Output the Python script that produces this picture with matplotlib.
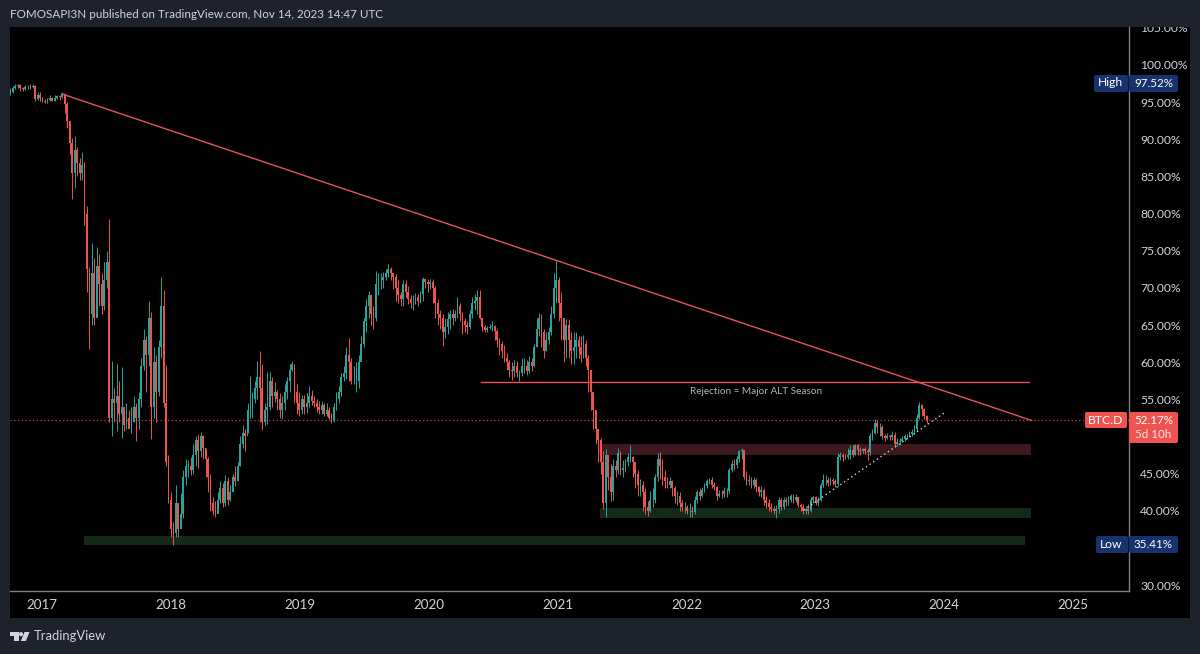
import matplotlib
matplotlib.use('Agg')
import matplotlib.pyplot as plt
from matplotlib.patches import Rectangle, FancyBboxPatch, Polygon, Circle
from matplotlib.transforms import Bbox

plt.rcParams['font.family'] = ['Lato', 'DejaVu Sans']

# weekly BTC.D candles, ten per row
closes = [
    96.4, 96.9, 97.2, 97.3, 96.9, 96.7, 97.0, 97.1, 97.0, 97.2,
    95.4, 96.0, 95.6, 95.2, 95.0, 95.3, 95.5, 95.2, 95.6, 95.8,
    95.7, 96.1, 94.8, 92.5, 89.5, 85.5, 88.5, 86.8, 85.5, 86.5,
    80.0, 72.5, 66.5, 72.0, 66.0, 73.0, 70.5, 67.5, 71.0, 73.5,
    52.5, 55.0, 54.5, 55.5, 53.0, 54.0, 51.5, 52.5, 51.0, 52.0,
    54.0, 52.5, 55.0, 59.5, 63.0, 61.0, 66.0, 54.0, 60.0, 56.0,
    62.0, 67.5, 54.5, 46.5, 41.5, 37.5, 37.0, 41.0, 37.5, 39.5,
    44.5, 46.0, 46.0, 45.5, 47.5, 49.5, 48.0, 50.0, 48.5, 47.0,
    44.5, 41.0, 40.0, 39.5, 41.5, 43.0, 41.0, 44.0, 41.5, 42.5,
    44.5, 44.0, 46.0, 49.0, 50.5, 50.0, 53.5, 53.5, 55.0, 56.5,
    58.0, 56.5, 52.0, 53.5, 54.0, 57.5, 55.5, 56.0, 55.0, 53.5,
    54.5, 56.0, 57.5, 59.0, 59.8, 56.0, 54.5, 53.5, 55.0, 54.0,
    54.5, 55.5, 54.8, 54.5, 54.0, 53.5, 54.2, 53.0, 53.5, 52.5,
    52.2, 54.0, 55.0, 56.0, 58.0, 58.5, 61.0, 60.0, 57.5, 57.5,
    57.5, 60.0, 62.5, 65.5, 67.5, 69.0, 66.5, 66.0, 70.5, 71.0,
    71.0, 71.5, 72.0, 72.5, 72.0, 71.5, 70.0, 69.0, 68.5, 70.5,
    69.5, 68.5, 68.0, 68.0, 68.8, 68.3, 69.2, 71.2, 70.8, 70.5,
    70.8, 70.0, 68.0, 66.5, 66.0, 64.0, 64.8, 65.8, 66.5, 66.0,
    66.5, 67.5, 66.5, 65.5, 65.0, 64.8, 66.5, 68.0, 68.3, 68.8,
    66.0, 64.8, 64.3, 64.6, 64.8, 64.9, 64.2, 63.0, 62.5, 61.5,
    60.5, 60.0, 59.0, 58.8, 59.5, 58.5, 58.5, 59.5, 59.5, 58.8,
    60.0, 59.5, 62.0, 64.5, 66.0, 64.0, 61.5, 63.0, 64.0, 66.5,
    70.0, 71.0, 68.0, 66.0, 63.0, 65.0, 63.0, 61.5, 62.0, 63.0,
    62.0, 61.0, 62.5, 60.5, 59.0, 56.0, 53.5, 51.0, 49.5, 46.5,
    41.0, 47.5, 44.5, 42.5, 46.0, 45.5, 47.8, 45.5, 45.8, 46.5,
    47.2, 47.3, 46.5, 45.0, 43.5, 43.5, 42.5, 40.5, 40.0, 41.5,
    41.5, 44.5, 47.0, 46.0, 44.5, 44.0, 43.5, 44.0, 43.0, 42.0,
    42.0, 41.0, 40.5, 40.5, 40.0, 40.0, 39.8, 41.5, 42.5, 42.0,
    42.8, 43.3, 44.0, 44.2, 43.5, 43.2, 42.0, 42.3, 42.2, 42.6,
    42.6, 45.5, 46.3, 46.2, 47.0, 48.0, 48.2, 44.5, 44.0, 44.2,
    43.5, 44.2, 43.2, 42.5, 42.8, 41.5, 41.0, 40.5, 40.3, 40.0,
    40.2, 41.5, 40.5, 41.5, 41.2, 41.5, 42.0, 41.5, 41.8, 40.8,
    40.5, 40.0, 40.2, 40.0, 41.5, 41.8, 41.0, 41.5, 43.5, 44.2,
    44.2, 43.8, 44.2, 44.0, 43.6, 47.3, 47.5, 47.3, 47.2, 47.5,
    48.2, 47.5, 48.8, 48.2, 48.0, 48.3, 48.1, 47.9, 50.0, 50.5,
    51.8, 51.3, 51.3, 50.0, 49.8, 50.0, 49.9, 50.2, 49.0, 49.3,
    49.4, 49.7, 50.0, 50.0, 50.3, 50.6, 51.0, 52.5, 54.3, 53.7,
    52.7, 52.17,
]
highs = [
    96.9, 97.2, 97.5, 97.5, 97.4, 97.1, 97.3, 97.3, 97.4, 97.5,
    97.3, 96.3, 96.3, 95.7, 95.4, 95.5, 95.9, 95.7, 95.9, 96.0,
    96.0, 96.3, 96.2, 95.0, 92.3, 90.2, 90.5, 89.0, 87.5, 88.3,
    87.0, 81.0, 72.8, 76.0, 74.0, 75.5, 74.5, 72.0, 73.5, 75.0,
    79.3, 60.2, 56.5, 59.8, 57.5, 59.4, 54.0, 54.5, 53.5, 54.0,
    55.5, 54.5, 56.0, 60.5, 64.5, 63.5, 68.3, 66.8, 62.0, 61.0,
    63.0, 71.5, 69.7, 59.6, 47.5, 42.5, 38.5, 43.5, 41.0, 42.4,
    45.5, 47.0, 46.8, 47.3, 49.0, 50.0, 50.4, 50.6, 50.2, 48.5,
    47.2, 45.0, 41.8, 41.3, 42.5, 44.0, 43.8, 44.8, 44.5, 43.5,
    45.0, 46.0, 46.5, 50.0, 51.5, 51.0, 54.5, 58.2, 56.0, 57.5,
    60.2, 61.5, 59.8, 54.5, 58.7, 58.7, 58.0, 57.3, 56.3, 55.8,
    55.5, 57.0, 58.0, 59.7, 60.2, 59.8, 57.0, 56.0, 55.6, 55.6,
    55.8, 56.8, 56.3, 55.5, 55.0, 54.8, 54.8, 54.5, 54.5, 54.0,
    53.2, 54.5, 56.0, 56.8, 58.5, 59.5, 62.0, 63.2, 60.5, 59.5,
    60.0, 61.0, 63.5, 66.0, 68.5, 69.6, 69.0, 67.5, 72.3, 72.0,
    72.0, 72.2, 72.6, 73.2, 72.8, 72.0, 71.8, 71.0, 69.5, 71.0,
    71.0, 70.3, 69.0, 69.0, 69.3, 69.2, 69.6, 71.5, 71.2, 71.2,
    71.2, 71.2, 70.2, 68.5, 67.0, 66.5, 66.0, 66.8, 67.0, 67.2,
    67.0, 68.8, 68.0, 66.8, 66.0, 65.5, 67.0, 68.8, 69.2, 69.7,
    69.7, 65.3, 65.0, 64.9, 65.2, 65.5, 65.0, 64.4, 63.3, 62.8,
    62.3, 61.2, 60.3, 60.0, 60.3, 60.2, 59.0, 60.5, 60.5, 60.3,
    60.8, 60.6, 62.5, 66.0, 66.6, 66.5, 64.5, 64.0, 64.7, 67.5,
    72.0, 73.8, 71.5, 69.5, 66.0, 65.8, 65.8, 64.0, 64.0, 64.0,
    63.5, 63.5, 63.7, 63.0, 61.0, 58.7, 56.0, 53.0, 51.0, 49.8,
    48.0, 48.3, 47.5, 46.3, 47.0, 46.8, 48.4, 48.0, 46.8, 47.0,
    47.8, 48.8, 47.4, 46.6, 45.5, 44.3, 44.0, 43.0, 41.3, 42.6,
    43.0, 45.0, 47.8, 47.9, 47.0, 45.5, 44.5, 44.5, 44.2, 43.3,
    42.6, 42.5, 41.5, 41.2, 40.8, 41.0, 40.6, 42.0, 42.8, 43.0,
    43.2, 43.8, 44.3, 44.4, 44.6, 43.9, 43.4, 42.8, 42.8, 43.2,
    43.0, 45.8, 46.8, 47.0, 47.4, 48.2, 48.4, 48.1, 45.4, 44.8,
    44.6, 44.6, 44.4, 43.4, 43.4, 43.0, 42.0, 41.6, 41.0, 40.7,
    40.8, 41.9, 41.7, 41.8, 41.9, 42.0, 42.3, 42.3, 42.2, 41.9,
    41.0, 40.9, 40.7, 40.9, 41.8, 42.0, 42.0, 41.8, 43.8, 45.0,
    44.8, 44.5, 44.5, 44.4, 44.3, 47.8, 47.9, 47.8, 47.7, 48.4,
    48.8, 48.8, 49.0, 49.0, 48.6, 48.5, 48.6, 48.4, 50.5, 51.0,
    52.3, 52.2, 51.8, 51.5, 50.4, 50.5, 50.4, 50.8, 50.6, 49.8,
    49.8, 50.1, 50.3, 50.4, 50.7, 51.0, 51.5, 53.0, 54.6, 54.4,
    53.8, 52.9,
]
lows = [
    96.0, 96.2, 96.8, 96.9, 96.5, 96.5, 96.6, 96.8, 96.8, 96.9,
    95.2, 95.3, 95.2, 95.0, 94.9, 94.9, 95.1, 95.1, 95.1, 95.4,
    95.3, 95.6, 93.5, 91.5, 88.0, 82.0, 83.5, 85.0, 84.5, 84.5,
    78.5, 69.5, 61.8, 65.0, 65.0, 68.0, 67.5, 66.5, 67.0, 70.0,
    52.0, 50.0, 52.0, 50.7, 52.0, 49.8, 50.7, 51.0, 51.5, 50.5,
    52.0, 49.4, 51.0, 54.0, 59.0, 56.0, 59.5, 49.6, 52.5, 52.0,
    55.5, 60.5, 54.0, 46.0, 41.0, 36.5, 35.41, 36.5, 36.5, 38.0,
    39.0, 43.5, 44.5, 44.8, 45.0, 46.0, 45.8, 47.2, 47.0, 44.6,
    42.5, 40.0, 39.4, 39.2, 39.8, 41.0, 40.5, 40.6, 40.8, 41.3,
    42.5, 43.3, 44.0, 46.0, 48.5, 48.0, 50.5, 52.5, 52.5, 54.5,
    55.0, 52.0, 50.9, 51.5, 51.7, 53.5, 54.0, 54.6, 53.5, 52.5,
    52.3, 53.5, 55.0, 56.0, 58.8, 54.5, 53.0, 52.7, 53.0, 53.0,
    53.2, 54.0, 54.2, 54.0, 53.3, 53.0, 53.0, 52.7, 52.8, 52.3,
    51.8, 51.9, 53.5, 54.5, 55.5, 57.5, 57.8, 57.5, 57.0, 57.0,
    56.0, 56.5, 60.5, 62.0, 64.0, 66.0, 65.0, 64.5, 65.5, 69.0,
    69.8, 70.0, 71.0, 71.5, 71.0, 69.8, 68.3, 68.0, 67.5, 67.5,
    68.8, 67.8, 67.3, 67.0, 67.8, 67.5, 68.0, 68.2, 70.0, 69.5,
    69.8, 68.0, 66.0, 65.0, 64.5, 62.2, 63.2, 63.8, 64.5, 65.0,
    65.5, 66.0, 65.5, 63.8, 64.0, 63.8, 64.5, 66.0, 67.0, 66.5,
    65.8, 64.2, 64.0, 64.0, 64.4, 64.2, 63.0, 62.0, 61.0, 60.5,
    60.0, 59.0, 58.0, 57.6, 58.0, 58.0, 57.5, 58.2, 58.5, 58.3,
    58.5, 58.8, 59.3, 62.0, 63.5, 62.0, 60.5, 61.5, 62.5, 63.7,
    66.0, 68.0, 65.5, 63.0, 60.0, 60.5, 60.5, 59.8, 59.8, 60.5,
    60.5, 60.0, 60.5, 59.5, 56.0, 53.5, 51.0, 49.0, 46.5, 45.0,
    40.2, 39.2, 42.8, 41.3, 41.5, 44.5, 45.0, 44.8, 44.5, 45.2,
    46.0, 46.5, 44.5, 43.0, 42.0, 42.0, 40.0, 39.5, 39.3, 39.8,
    40.5, 41.0, 44.0, 44.3, 43.5, 43.0, 43.0, 43.0, 42.0, 41.0,
    40.8, 40.0, 40.0, 39.7, 39.5, 39.2, 39.2, 39.5, 41.0, 41.5,
    41.8, 42.5, 43.0, 43.6, 43.0, 42.8, 41.5, 41.8, 41.7, 41.9,
    41.8, 42.4, 45.2, 45.5, 45.8, 46.5, 47.0, 44.3, 43.5, 43.5,
    43.0, 43.0, 42.5, 42.0, 41.8, 40.8, 40.4, 40.0, 39.8, 39.6,
    39.0, 39.7, 40.1, 40.2, 40.7, 40.8, 41.2, 41.0, 41.2, 40.5,
    40.0, 39.5, 39.6, 39.5, 39.8, 41.0, 40.8, 40.7, 41.3, 43.2,
    43.5, 43.4, 43.5, 43.5, 43.2, 43.3, 46.8, 46.7, 47.0, 47.0,
    47.0, 47.2, 47.5, 47.5, 47.5, 47.8, 47.6, 46.9, 47.5, 49.5,
    50.3, 50.5, 50.0, 49.6, 49.4, 49.6, 49.5, 49.5, 48.6, 48.7,
    48.8, 49.2, 49.4, 49.7, 49.9, 50.1, 50.4, 50.8, 52.3, 52.8,
    52.4, 51.8,
]

year_ticks = [2017, 2018, 2019, 2020, 2021, 2022, 2023, 2024, 2025]
pct_ticks = [30, 40, 45, 55, 60, 65, 70, 75, 80, 85, 90, 95, 100, 105]

last_price = 52.17
high_value = 97.52
low_value = 35.41

trend_x = [2017.155, 2024.68]
trend_y = [96.1, 52.15]
support_x = [2022.91, 2024.0]
support_y = [40.1, 53.16]
rejection_x = [2020.41, 2024.66]
rejection_y = 57.27
red_zone = (2021.32, 2024.67, 47.51, 49.0)
green_zone = (2021.33, 2024.67, 39.03, 40.31)
low_zone = (2017.33, 2024.63, 35.4, 36.61)

RED = '#ef5350'
TEAL = '#26a69a'
FRAME = '#1e222d'
BLUE = '#17336f'
TEXT = '#d1d4dc'

fig = plt.figure(figsize=(12, 6.54), dpi=100, facecolor=FRAME)

# pixel coordinates for the frame and the labels
bg = fig.add_axes([0, 0, 1, 1], zorder=0)
bg.set_xlim(0, 1200)
bg.set_ylim(654, 0)
bg.axis('off')
bg.add_patch(Rectangle((10, 27), 1180, 591, color='black', lw=0))

ax = fig.add_axes([10 / 1200, (654 - 590.5) / 654, 1118.5 / 1200, 563.5 / 654], zorder=1)
ax.set_facecolor('black')
ax.set_xlim(2016.752, 2025.43)
ax.set_ylim(29.27, 105.11)

for z, col in [(red_zone, '#3d181e'), (green_zone, '#15291a'), (low_zone, '#15291a')]:
    ax.add_patch(Rectangle((z[0], z[2]), z[1] - z[0], z[3] - z[2], color=col, lw=0, zorder=1))

ax.axhline(last_price, color=RED, lw=0.9, ls=(0, (1, 2)), alpha=0.8, zorder=2)

week = 1 / 52.18
xs = [2016.755 + i * week for i in range(len(closes))]
opens = [96.2] + closes[:-1]
colors = [TEAL if c >= o else RED for o, c in zip(opens, closes)]
ax.vlines(xs, lows, highs, colors=colors, lw=0.7, zorder=3)
ax.bar(xs, [c - o for o, c in zip(opens, closes)], bottom=opens, width=1.8 / 128.9,
       color=colors, lw=0, zorder=3)

ax.plot(trend_x, trend_y, color='#e8545a', lw=1.0, zorder=4)
ax.plot(rejection_x, [rejection_y, rejection_y], color='#e8545a', lw=1.0, zorder=4)
ax.plot(support_x, support_y, color='#cfd2d6', lw=1, ls=(0, (1, 2.2)), zorder=4)
ax.text(2022.54, 56.0, 'Rejection = Major ALT Season', color='#b2b5be', fontsize=7.2,
        ha='center', va='center', zorder=5)

for s in ['top', 'left']:
    ax.spines[s].set_visible(False)
for s in ['bottom', 'right']:
    ax.spines[s].set_color('#7c7f88')
    ax.spines[s].set_linewidth(1)

ax.set_xticks(year_ticks)
ax.set_xticklabels([str(y) for y in year_ticks])
ax.yaxis.tick_right()
ax.set_yticks(pct_ticks)
ax.set_yticklabels(['%.2f%%' % v for v in pct_ticks])
ax.tick_params(axis='x', length=0, colors=TEXT, labelsize=9.6, pad=6)
ax.tick_params(axis='y', length=0, colors=TEXT, labelsize=8.7, pad=8.5)

# the top label is cut off at the edge of the panel
panel = Bbox([[1128, 36], [1190, 654 - 27]])
for t in ax.get_yticklabels():
    t.set_clip_box(panel)
    t.set_clip_on(True)

# labels on the price axis, on top of everything
top = fig.add_axes([0, 0, 1, 1], zorder=2)
top.set_xlim(0, 1200)
top.set_ylim(654, 0)
top.axis('off')


def tag(x0, x1, y0, y1, color):
    top.add_patch(FancyBboxPatch((x0 + 1, y0 + 1), x1 - x0 - 2, y1 - y0 - 2,
                                 boxstyle='round,pad=1,rounding_size=2',
                                 facecolor=color, edgecolor='none'))


tag(1094, 1128, 75, 92, BLUE)
tag(1129, 1178, 75, 92, BLUE)
top.text(1110.5, 83, 'High', color='white', fontsize=8.7, ha='center', va='center')
top.text(1153.5, 83.5, '%.2f%%' % high_value, color='white', fontsize=8.4, ha='center', va='center')

tag(1096, 1128, 536, 553, BLUE)
tag(1129, 1178, 536, 553, BLUE)
top.text(1111, 544.5, 'Low', color='white', fontsize=8.7, ha='center', va='center')
top.text(1153.5, 544.5, '%.2f%%' % low_value, color='white', fontsize=8.4, ha='center', va='center')

tag(1085, 1127, 412, 428, RED)
tag(1129, 1178, 412, 443, RED)
top.text(1106, 420, 'BTC.D', color='white', fontsize=8.7, ha='center', va='center')
top.text(1153.5, 420.5, '%.2f%%' % last_price, color='white', fontsize=8.4, ha='center', va='center')
top.text(1153.5, 434.5, '5d 10h', color='#fbe3e3', fontsize=8.4, ha='center', va='center')

top.text(10, 15, 'FOMOSAPI3N published on TradingView.com, Nov 14, 2023 14:47 UTC',
         color=TEXT, fontsize=8.35, ha='left', va='center')

# TradingView logo
top.add_patch(Polygon([(10, 632), (18.5, 632), (18.5, 641), (14, 641), (14, 636), (10, 636)],
                      color=TEXT, lw=0))
top.add_patch(Circle((21, 634.2), 2.1, color=TEXT, lw=0))
top.add_patch(Polygon([(24.5, 632), (29.6, 632), (25.8, 641), (20.8, 641)], color=TEXT, lw=0))
top.text(33.5, 636, 'TradingView', color=TEXT, fontsize=9.4, ha='left', va='center')

fig.savefig('out.png', dpi=100, facecolor=FRAME)
